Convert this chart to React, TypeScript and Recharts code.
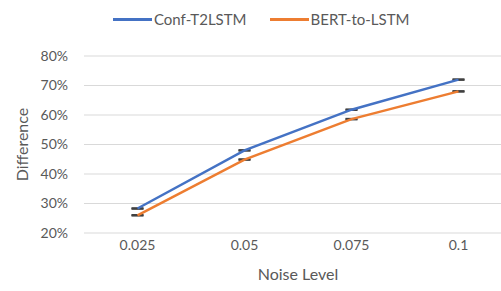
import { CSSProperties, FC } from 'react'
import { CartesianGrid, ErrorBar, Legend, Line, LineChart, XAxis, YAxis } from 'recharts'

const noiseLevels = ['0.025', '0.05', '0.075', '0.1']
const confT2LSTM = [0.283, 0.48, 0.618, 0.72]
const bertToLSTM = [0.26, 0.449, 0.586, 0.68]
const errConf = [0.001, 0.001, 0.001, 0.001]
const errBert = [0.001, 0.001, 0.001, 0.001]
const yTicks = [0.2, 0.3, 0.4, 0.5, 0.6, 0.7, 0.8]

const seriesNames = ['Conf-T2LSTM', 'BERT-to-LSTM']
const seriesColors = ['#4472C4', '#ED7D31']

const data = noiseLevels.map((n, i) => ({
  noise: n,
  conf: confT2LSTM[i],
  bert: bertToLSTM[i],
  errConf: errConf[i],
  errBert: errBert[i],
}))

const font = 'Lato, "Open Sans", sans-serif'
const textColor = '#595959'

const sWrap: CSSProperties = {
  position: 'absolute',
  left: 0,
  top: 0,
  width: 501,
  height: 291,
  overflow: 'hidden',
  background: '#fff',
  fontFamily: font,
}

const sItem: CSSProperties = {
  display: 'flex',
  alignItems: 'center',
  marginRight: 23,
}

const LegendContent: FC = () => (
  <div style={{display: 'flex', alignItems: 'center', fontFamily: font, fontSize: 15, color: textColor}}>
    {seriesNames.map((name, i) => (
      <div key={name} style={sItem}>
        <span style={{display: 'inline-block', width: 39, height: 3, background: seriesColors[i], marginRight: 2}}/>
        <span>{name}</span>
      </div>
    ))}
  </div>
)

export default function App() {
  return (
    <div style={sWrap}>
      <LineChart width={512} height={291} data={data} margin={{top: 56, right: 0, bottom: 0, left: 0}}>
        <CartesianGrid vertical={false} stroke="#D9D9D9" strokeWidth={1}/>
        <XAxis dataKey="noise" axisLine={false} tickLine={false} tickSize={0} tickMargin={7} height={58}
               padding={{left: 53.5, right: 53.5}}
               tick={{fill: textColor, fontSize: 14, fontFamily: font}}
               label={{value: 'Noise Level', position: 'insideBottom', offset: 11, fill: textColor, fontSize: 16, fontFamily: font}}/>
        <YAxis domain={[0.2, 0.8]} ticks={yTicks} width={84} axisLine={false} tickLine={false} tickSize={0}
               tickMargin={16} tickFormatter={(v: number) => `${Math.round(v * 100)}%`}
               tick={{fill: textColor, fontSize: 14, fontFamily: font}}
               label={{value: 'Difference', angle: -90, position: 'insideLeft', offset: 22, fill: textColor, fontSize: 16, fontFamily: font, style: {textAnchor: 'middle'}}}/>
        <Legend layout="horizontal" verticalAlign="middle" align="center" content={<LegendContent/>}
                wrapperStyle={{top: 10, left: 113, width: 'auto'}}/>
        <Line type="linear" dataKey="conf" name={seriesNames[0]} stroke={seriesColors[0]} strokeWidth={2.5} dot={false} isAnimationActive={false}>
          <ErrorBar dataKey="errConf" width={6} strokeWidth={2} stroke="#404040" isAnimationActive={false}/>
        </Line>
        <Line type="linear" dataKey="bert" name={seriesNames[1]} stroke={seriesColors[1]} strokeWidth={2.5} dot={false} isAnimationActive={false}>
          <ErrorBar dataKey="errBert" width={6} strokeWidth={2} stroke="#404040" isAnimationActive={false}/>
        </Line>
      </LineChart>
    </div>
  )
}
